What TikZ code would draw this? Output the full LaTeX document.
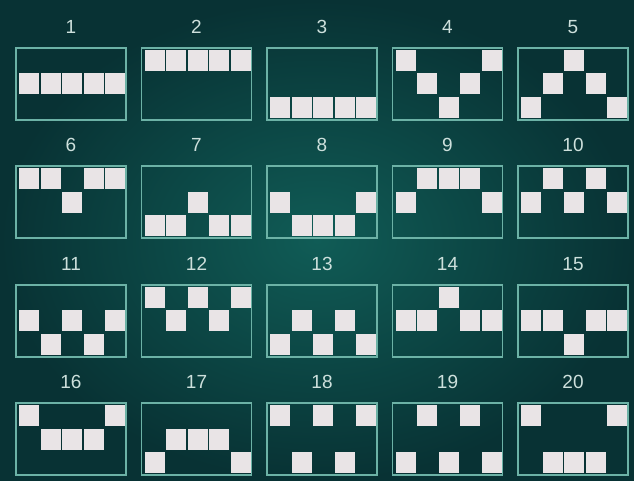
\documentclass[tikz,border=0pt]{standalone}
\usepackage{fontspec}
\setmainfont{Liberation Sans}
\usetikzlibrary{calc}
\definecolor{bgcenter}{RGB}{16, 92, 86}
\definecolor{bgedge}{RGB}{8, 50, 52}
\definecolor{frameline}{RGB}{108, 178, 166}
\definecolor{tilewhite}{RGB}{233, 228, 230}
\definecolor{labeltext}{RGB}{205, 224, 220}

\begin{document}
\begin{tikzpicture}[x=1pt, y=1pt,
    panel/.style={draw=frameline, line width=1.8pt, minimum width=110pt, minimum height=72pt, inner sep=0pt, outer sep=0pt},
    tile/.style={fill=tilewhite},
    numlabel/.style={color=labeltext, font=\fontsize{19}{20}\selectfont, inner sep=0pt}]
    % Background
    \shade[inner color=bgcenter, outer color=bgedge] (0,0) rectangle (634,481);
    \useasboundingbox (0,0) rectangle (634,481);

    % Panels: number / cells (column/row, row 0 at top)
    \foreach \n/\cells in {
        1/{0/1,1/1,2/1,3/1,4/1},
        2/{0/0,1/0,2/0,3/0,4/0},
        3/{0/2,1/2,2/2,3/2,4/2},
        4/{0/0,4/0,1/1,3/1,2/2},
        5/{2/0,1/1,3/1,0/2,4/2},
        6/{0/0,1/0,3/0,4/0,2/1},
        7/{2/1,0/2,1/2,3/2,4/2},
        8/{0/1,4/1,1/2,2/2,3/2},
        9/{1/0,2/0,3/0,0/1,4/1},
        10/{1/0,3/0,0/1,2/1,4/1},
        11/{0/1,2/1,4/1,1/2,3/2},
        12/{0/0,2/0,4/0,1/1,3/1},
        13/{1/1,3/1,0/2,2/2,4/2},
        14/{2/0,0/1,1/1,3/1,4/1},
        15/{0/1,1/1,3/1,4/1,2/2},
        16/{0/0,4/0,1/1,2/1,3/1},
        17/{1/1,2/1,3/1,0/2,4/2},
        18/{0/0,2/0,4/0,1/2,3/2},
        19/{1/0,3/0,0/2,2/2,4/2},
        20/{0/0,4/0,1/2,2/2,3/2}} {
        \pgfmathsetmacro\px{71+125.5*mod(\n-1,5)}
        \pgfmathsetmacro\py{397-118.4*floor((\n-1)/5)}
        \node[panel] (box\n) at (\px,\py) {};
        \node[numlabel] (num\n) at ($(box\n.north)+(0,21)$) {\n};
        \foreach \c/\r in \cells
            \fill[tile] ($(box\n.north west)+(3+21.5*\c,-2-23.5*\r)$) rectangle ++(20,-21);
    }
\end{tikzpicture}
\end{document}
